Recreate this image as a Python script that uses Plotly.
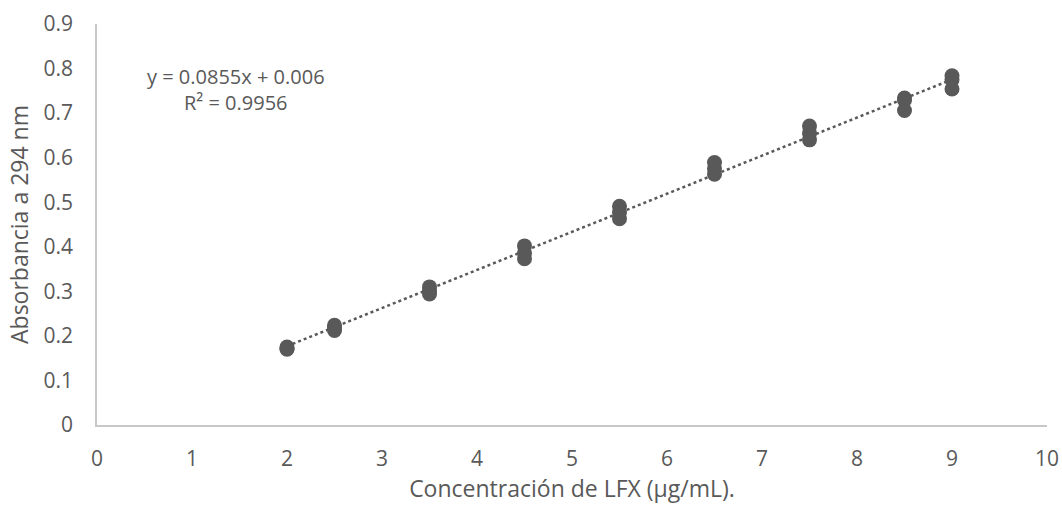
import plotly.graph_objects as go

# Data: concentration (µg/mL) and absorbance at 294 nm (triplicates)
conc = [2, 2, 2, 2.5, 2.5, 2.5, 3.5, 3.5, 3.5, 4.5, 4.5, 4.5, 5.5, 5.5, 5.5,
        6.5, 6.5, 6.5, 7.5, 7.5, 7.5, 8.5, 8.5, 8.5, 9, 9, 9]
absorb = [0.172, 0.175, 0.170, 0.212, 0.218, 0.224, 0.310, 0.301, 0.294,
          0.402, 0.386, 0.373, 0.491, 0.477, 0.463, 0.589, 0.575, 0.563,
          0.671, 0.655, 0.640, 0.734, 0.729, 0.706, 0.784, 0.775, 0.754]

slope = 0.0855
intercept = 0.006
equation_text = "y = 0.0855x + 0.006<br>R² = 0.9956"

x_ticks = list(range(0, 11))
y_ticks = [0, 0.1, 0.2, 0.3, 0.4, 0.5, 0.6, 0.7, 0.8, 0.9]
y_tick_labels = ["0", "0.1", "0.2", "0.3", "0.4", "0.5", "0.6", "0.7", "0.8", "0.9"]

gray = "#595959"
font_family = "Open Sans, Noto Sans, sans-serif"

trend_x = [min(conc), max(conc)]
trend_y = [slope * v + intercept for v in trend_x]

fig = go.Figure()
fig.add_trace(go.Scatter(
    x=trend_x, y=trend_y, mode="lines",
    line=dict(color=gray, width=2.5, dash="dot"),
    hoverinfo="skip", showlegend=False,
))
fig.add_trace(go.Scatter(
    x=conc, y=absorb, mode="markers",
    marker=dict(color=gray, size=15, line=dict(width=0)),
    showlegend=False,
))

fig.add_annotation(
    x=1.46, y=0.753, xref="x", yref="y",
    text=equation_text, showarrow=False, align="center",
    font=dict(family=font_family, size=20, color=gray),
)

fig.update_layout(
    width=1062, height=509,
    margin=dict(l=97, r=15, t=24, b=84),
    plot_bgcolor="white", paper_bgcolor="white",
    font=dict(family=font_family, size=21, color=gray),
)
fig.update_xaxes(
    range=[0, 10], tickvals=x_ticks, showgrid=False, zeroline=False,
    showline=True, linecolor="#c8c8c8", linewidth=1.5, automargin=False,
    ticks="outside", ticklen=14, tickcolor="rgba(0,0,0,0)",
    tickfont=dict(size=21, color=gray),
    title=dict(text="Concentración de LFX (µg/mL).", font=dict(size=23, color=gray), standoff=8),
)
fig.update_yaxes(
    range=[0, 0.9], tickvals=y_ticks, ticktext=y_tick_labels,
    showgrid=False, zeroline=False, showline=True, linecolor="#c8c8c8", linewidth=1.5,
    automargin=False,
    ticks="outside", ticklen=18, tickcolor="rgba(0,0,0,0)",
    tickfont=dict(size=21, color=gray),
    title=dict(text="Absorbancia a 294 nm", font=dict(size=23, color=gray), standoff=8),
)

fig.write_html("out.html", config={"displayModeBar": False},
               post_script="document.body.style.margin='0';")
